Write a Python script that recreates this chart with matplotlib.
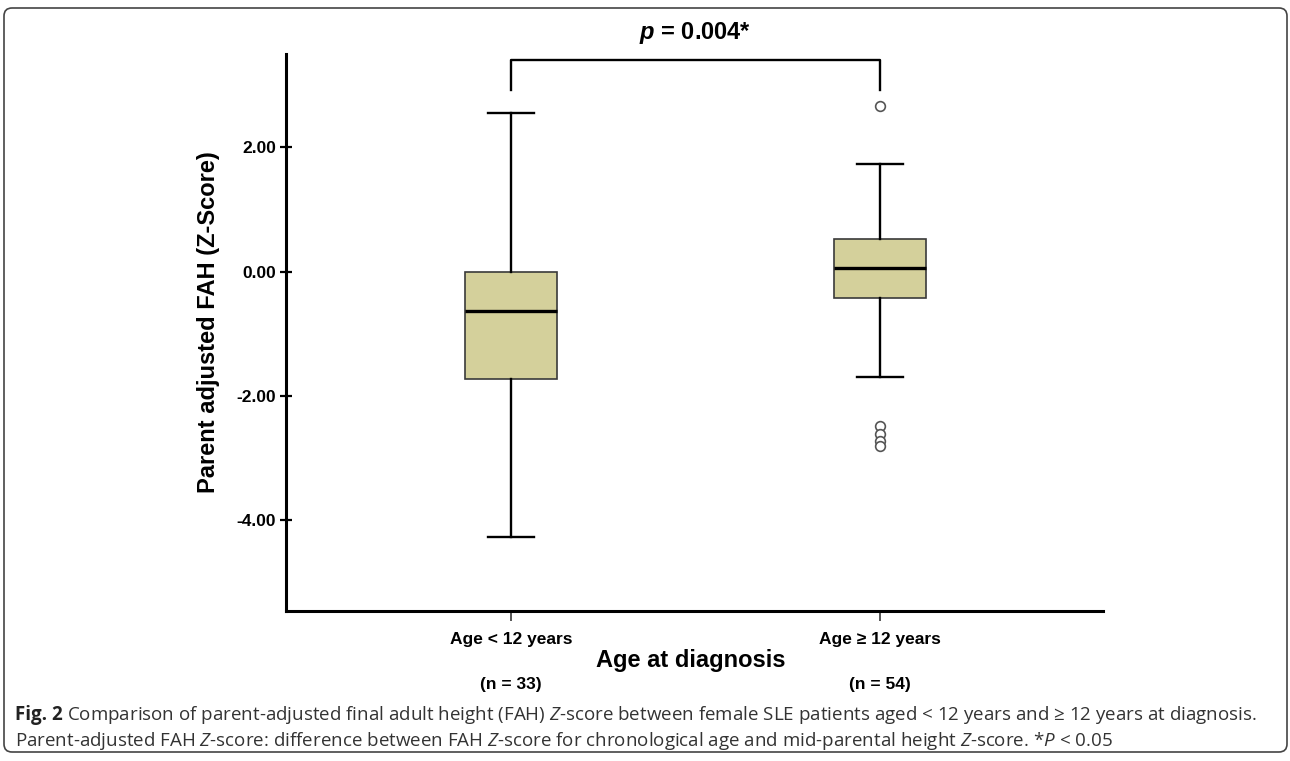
import matplotlib
matplotlib.use('Agg')
import matplotlib.pyplot as plt
import matplotlib.transforms as mtransforms
from matplotlib.patches import FancyBboxPatch

# data
groups = ['Age < 12 years', 'Age ≥ 12 years']
n_labels = ['(n = 33)', '(n = 54)']
q1 = [-1.72, -0.42]
med = [-0.63, 0.06]
q3 = [0.00, 0.53]
whislo = [-4.27, -1.70]
whishi = [2.55, 1.73]
fliers = [[], [2.67, -2.48, -2.62, -2.72, -2.81]]
yticks = [-4, -2, 0, 2]
p_text = r'$\mathbfit{p}$ = 0.004*'

plt.rcParams['font.family'] = ['Liberation Sans', 'DejaVu Sans']
plt.rcParams['axes.unicode_minus'] = False
plt.rcParams['mathtext.fontset'] = 'custom'
plt.rcParams['mathtext.it'] = 'Open Sans:italic'
plt.rcParams['mathtext.bf'] = 'Open Sans:bold'
plt.rcParams['mathtext.bfit'] = 'Liberation Sans:italic:bold'

W, H = 1290, 761
fig = plt.figure(figsize=(W / 100, H / 100), dpi=100)
ax = fig.add_axes([286 / W, 150 / H, 817 / W, 557 / H])

stats = []
for i in range(len(groups)):
    stats.append(dict(label=groups[i], q1=q1[i], med=med[i], q3=q3[i],
                      whislo=whislo[i], whishi=whishi[i], fliers=fliers[i]))

pos = [1, 2]
ax.bxp(stats, positions=pos, widths=0.25, capwidths=0.125, patch_artist=True,
       boxprops=dict(facecolor='#d4d09b', edgecolor='#3a3a3a', linewidth=1.2),
       whiskerprops=dict(color='black', linewidth=1.7),
       capprops=dict(color='black', linewidth=1.7),
       medianprops=dict(color='black', linewidth=2.4),
       flierprops=dict(marker='o', markerfacecolor='white', markeredgecolor='#555555',
                       markersize=7, markeredgewidth=1.2))

ax.set_xlim(0.39, 2.605)
ax.set_ylim(-5.46, 3.5)
ax.spines['top'].set_visible(False)
ax.spines['right'].set_visible(False)
for s in ['left', 'bottom']:
    ax.spines[s].set_linewidth(2.2)
    ax.spines[s].set_color('black')

ax.set_yticks(yticks)
ax.yaxis.set_major_formatter('{x:.2f}')
ax.tick_params(axis='y', direction='inout', length=8, width=1.6, pad=3,
               labelsize=12.5)
ax.set_xticks(pos)
ax.set_xticklabels(groups)
ax.tick_params(axis='x', direction='out', length=7, width=1.4, color='#555555',
               pad=8, labelsize=12.5)
for lab in ax.get_xticklabels() + ax.get_yticklabels():
    lab.set_fontweight('bold')

# n labels under the groups
trans = mtransforms.blended_transform_factory(ax.transData, fig.transFigure)
for p, n in zip(pos, n_labels):
    ax.text(p, 1 - 684 / H, n, transform=trans, ha='center', va='center',
            fontsize=12.5, fontweight='bold')

fig.text(691 / W, 1 - 661 / H, 'Age at diagnosis', ha='center', va='center',
         fontsize=17, fontweight='bold')
fig.text(209 / W, 1 - 322 / H, 'Parent adjusted FAH (Z-Score)', ha='center',
         va='center', rotation=90, fontsize=17, fontweight='bold')

# significance bracket
ax.plot([1, 1, 2, 2], [2.92, 3.40, 3.40, 2.92], color='black', lw=1.7,
        clip_on=False)
fig.text(695 / W, 1 - 33 / H, p_text, ha='center', va='center', fontsize=17,
         fontweight='bold')

# caption
cap_font = ['Open Sans', 'DejaVu Sans']
cap_size = 13.5
cap_col = '#333333'
line1 = (r' Comparison of parent-adjusted final adult height (FAH) '
         r'$Z$-score between female SLE patients aged < 12 years and ≥ 12 years at diagnosis.')
line2 = (r'Parent-adjusted FAH $Z$-score: difference between FAH $Z$-score for '
         r'chronological age and mid-parental height $Z$-score. *$P$ < 0.05')
y1 = 1 - 715 / H
fig_lbl = fig.text(15 / W, y1, 'Fig. 2', va='center', ha='left', fontsize=cap_size,
                   family=cap_font, fontweight='bold', color='#222222')
r = fig.canvas.get_renderer()
x_after = fig_lbl.get_window_extent(r).x1 + 4
fig.text(x_after / W, y1, line1.strip(), va='center', ha='left', fontsize=cap_size,
         family=cap_font, color=cap_col)
fig.text(15 / W, 1 - 741 / H, line2, va='center', ha='left', fontsize=cap_size,
         family=cap_font, color=cap_col)

frame = FancyBboxPatch((4, 9), 1283, 744, boxstyle='round,pad=0,rounding_size=8',
                       transform=None, fill=False, edgecolor='#444444', lw=1.2)
fig.add_artist(frame)

fig.savefig('out.png', dpi=100)
